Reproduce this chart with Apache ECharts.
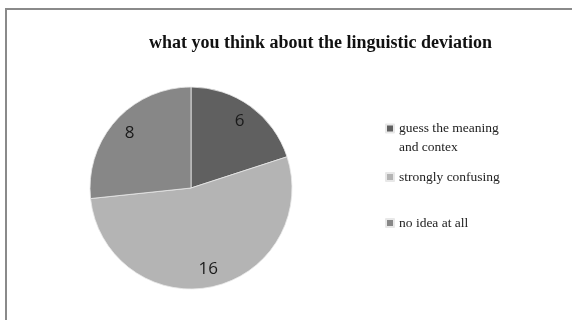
<!DOCTYPE html>
<html>
<head>
<meta charset="utf-8">
<script src="https://cdn.jsdelivr.net/npm/echarts@6/dist/echarts.min.js"></script>
<style>
  html, body { margin: 0; padding: 0; background: #fff; }
  #chart { width: 572px; height: 320px; }
</style>
</head>
<body>
<div id="chart"></div>
<script>
var categories = ['guess the meaning\nand contex', 'strongly confusing', 'no idea at all'];
var values = [6, 16, 8];
var colors = ['#606060', '#b4b4b4', '#878787'];
var legendTops = [100, 167.5, 213.5];

var chart = echarts.init(document.getElementById('chart'));

var pieData = categories.map(function (name, i) {
    return { name: name, value: values[i], itemStyle: { color: colors[i] } };
});

// one legend block per item so each row sits where it does in the picture
var legends = categories.map(function (name, i) {
    return {
        orient: 'vertical',
        left: 385,
        top: legendTops[i],
        padding: 0,
        itemWidth: 8,
        itemHeight: 8,
        itemGap: 0,
        icon: 'rect',
        selectedMode: false,
        data: [name],
        // first item: empty line on top so the marker sits beside the first text line
        formatter: i === 0 ? function (n) { return '\n' + n; } : '{name}',
        textStyle: {
            fontFamily: 'Liberation Serif',
            fontSize: 13.5,
            color: '#222',
            lineHeight: 19
        }
    };
});

var option = {
    backgroundColor: '#fff',
    animation: false,
    title: {
        text: 'what you think about the linguistic deviation',
        left: 144,
        top: 29,
        textStyle: {
            fontFamily: 'Liberation Serif',
            fontWeight: 'bold',
            fontSize: 18,
            color: '#111'
        }
    },
    legend: legends,
    graphic: [{
        type: 'rect',
        shape: { x: 6, y: 9, width: 600, height: 400 },
        style: { fill: null, stroke: '#8a8a8a', lineWidth: 2 },
        silent: true
    }],
    series: [
        {
            // filled pie
            type: 'pie',
            center: [191, 188],
            radius: [0, 101],
            startAngle: 90,
            clockwise: true,
            label: { show: false },
            labelLine: { show: false },
            itemStyle: { borderColor: '#e8e8e8', borderWidth: 0.8 },
            emphasis: { disabled: true },
            data: pieData
        },
        {
            // transparent ring only to place the value labels further out
            type: 'pie',
            center: [191, 188],
            radius: [58, 101],
            startAngle: 90,
            clockwise: true,
            silent: true,
            legendHoverLink: false,
            itemStyle: { color: 'rgba(0,0,0,0)', borderWidth: 0 },
            emphasis: { disabled: true },
            label: {
                show: true,
                position: 'inside',
                formatter: '{c}',
                fontFamily: 'Open Sans',
                fontSize: 17,
                color: '#1a1a1a'
            },
            labelLine: { show: false },
            data: categories.map(function (name, i) {
                return { name: name, value: values[i] };
            })
        }
    ]
};

chart.setOption(option);
</script>
</body>
</html>
